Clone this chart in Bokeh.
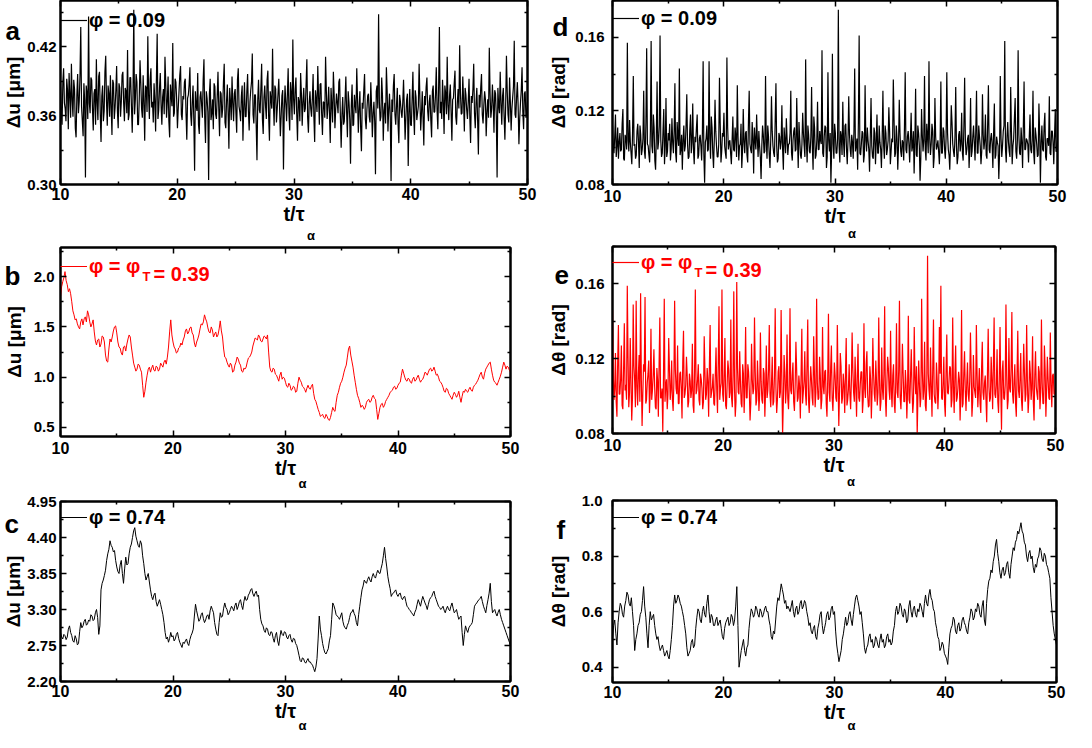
import numpy as np
from bokeh.plotting import figure
from bokeh.models import (ColumnDataSource, Range1d, LinearAxis, FixedTicker,
                          NumeralTickFormatter, CustomJSTickFormatter, Label,
                          Legend, LegendItem)
from bokeh.layouts import row, column
from bokeh.embed import file_html
from bokeh.resources import INLINE

FONT = "Liberation Sans"

# ---------------- data ----------------
x_ticks = [10, 20, 30, 40, 50]
x_minor = [15, 25, 35, 45]
x_label = "t/τ"
x_label_sub = "α"

# (a) phi = 0.09, displacement [um]; samples read at even and odd positions
du_phi009_even = [
 0.385, 0.352, 0.401, 0.366, 0.392, 0.348, 0.378, 0.405, 0.359, 0.383, 0.341, 0.396, 0.372, 0.437, 0.355, 0.388, 0.306, 0.379, 0.446, 0.362,
 0.391, 0.347, 0.383, 0.409, 0.356, 0.398, 0.337, 0.386, 0.364, 0.412, 0.351, 0.379, 0.395, 0.343, 0.388, 0.367, 0.403, 0.349, 0.384, 0.372,
 0.398, 0.355, 0.381, 0.417, 0.361, 0.393, 0.345, 0.452, 0.374, 0.389, 0.352, 0.408, 0.366, 0.395, 0.338, 0.384, 0.429, 0.357, 0.401, 0.372,
 0.388, 0.346, 0.431, 0.365, 0.397, 0.352, 0.383, 0.411, 0.358, 0.394, 0.341, 0.377, 0.423, 0.362, 0.389, 0.349, 0.381, 0.403, 0.356, 0.374,
 0.392, 0.339, 0.378, 0.402, 0.351, 0.386, 0.312, 0.369, 0.397, 0.344, 0.381, 0.358, 0.409, 0.336, 0.375, 0.304, 0.392, 0.362, 0.348, 0.385,
 0.357, 0.398, 0.342, 0.379, 0.366, 0.405, 0.349, 0.387, 0.331, 0.372, 0.394, 0.355, 0.383, 0.345, 0.401, 0.363, 0.377, 0.338, 0.389, 0.359,
 0.396, 0.347, 0.382, 0.414, 0.353, 0.378, 0.321, 0.391, 0.362, 0.405, 0.344, 0.386, 0.357, 0.399, 0.338, 0.374, 0.418, 0.351, 0.383, 0.366,
 0.392, 0.342, 0.377, 0.313, 0.386, 0.355, 0.401, 0.347, 0.379, 0.426, 0.361, 0.393, 0.338, 0.372, 0.397, 0.351, 0.384, 0.366, 0.409, 0.345,
 0.381, 0.359, 0.396, 0.337, 0.374, 0.403, 0.352, 0.388, 0.343, 0.371, 0.411, 0.357, 0.385, 0.336, 0.369, 0.398, 0.349, 0.379, 0.362, 0.392,
 0.332, 0.376, 0.355, 0.394, 0.341, 0.372, 0.318, 0.387, 0.352, 0.369, 0.401, 0.345, 0.381, 0.329, 0.366, 0.396, 0.348, 0.377, 0.359, 0.389,
 0.341, 0.372, 0.309, 0.386, 0.448, 0.355, 0.393, 0.338, 0.371, 0.402, 0.346, 0.379, 0.303, 0.363, 0.396, 0.352, 0.384, 0.336, 0.372, 0.358,
 0.391, 0.339, 0.374, 0.316, 0.383, 0.351, 0.398, 0.343, 0.376, 0.362, 0.405, 0.347, 0.381, 0.334, 0.369, 0.393, 0.355, 0.378, 0.341, 0.386,
 0.363, 0.402, 0.348, 0.437, 0.372, 0.391, 0.344, 0.379, 0.411, 0.356, 0.387, 0.338, 0.375, 0.399, 0.352, 0.383, 0.421, 0.361, 0.394, 0.346,
 0.378, 0.357, 0.392, 0.336, 0.371, 0.405, 0.349, 0.384, 0.326, 0.367, 0.396, 0.353, 0.381, 0.342, 0.374, 0.419, 0.358, 0.387, 0.345, 0.379,
 0.306, 0.369, 0.398, 0.352, 0.384, 0.339, 0.412, 0.361, 0.393, 0.347, 0.376, 0.425, 0.358, 0.389, 0.335, 0.371, 0.402, 0.348, 0.381, 0.362,
]
du_phi009_odd = [
 0.362, 0.389, 0.371, 0.355, 0.382, 0.397, 0.358, 0.374, 0.391, 0.349, 0.378, 0.362, 0.395, 0.368, 0.342, 0.373, 0.386, 0.357, 0.371, 0.393,
 0.366, 0.379, 0.352, 0.371, 0.394, 0.361, 0.377, 0.355, 0.398, 0.372, 0.386, 0.359, 0.368, 0.391, 0.357, 0.382, 0.364, 0.388, 0.359, 0.395,
 0.371, 0.384, 0.362, 0.356, 0.393, 0.368, 0.379, 0.361, 0.396, 0.352, 0.374, 0.389, 0.358, 0.371, 0.386, 0.363, 0.378, 0.392, 0.367, 0.354,
 0.373, 0.391, 0.357, 0.384, 0.369, 0.376, 0.361, 0.388, 0.372, 0.355, 0.387, 0.368, 0.359, 0.392, 0.374, 0.366, 0.395, 0.361, 0.377, 0.389,
 0.362, 0.375, 0.387, 0.361, 0.372, 0.356, 0.381, 0.364, 0.352, 0.376, 0.369, 0.391, 0.358, 0.381, 0.363, 0.379, 0.356, 0.374, 0.388, 0.361,
 0.377, 0.366, 0.381, 0.358, 0.389, 0.354, 0.373, 0.362, 0.384, 0.356, 0.371, 0.379, 0.362, 0.391, 0.368, 0.355, 0.386, 0.367, 0.359, 0.381,
 0.364, 0.372, 0.389, 0.361, 0.378, 0.352, 0.374, 0.365, 0.383, 0.357, 0.376, 0.368, 0.391, 0.359, 0.381, 0.366, 0.372, 0.386, 0.354, 0.379,
 0.367, 0.359, 0.382, 0.364, 0.371, 0.378, 0.362, 0.389, 0.356, 0.374, 0.383, 0.361, 0.376, 0.355, 0.379, 0.372, 0.363, 0.387, 0.358, 0.371,
 0.366, 0.374, 0.359, 0.382, 0.363, 0.377, 0.387, 0.361, 0.372, 0.358, 0.381, 0.369, 0.362, 0.384, 0.354, 0.378, 0.366, 0.371, 0.389, 0.359,
 0.361, 0.352, 0.374, 0.363, 0.381, 0.357, 0.369, 0.351, 0.378, 0.362, 0.374, 0.366, 0.349, 0.371, 0.382, 0.357, 0.365, 0.379, 0.354, 0.368,
 0.362, 0.355, 0.381, 0.366, 0.372, 0.359, 0.377, 0.364, 0.353, 0.381, 0.366, 0.358, 0.374, 0.386, 0.361, 0.369, 0.352, 0.378, 0.363, 0.371,
 0.366, 0.358, 0.379, 0.362, 0.352, 0.374, 0.361, 0.382, 0.356, 0.368, 0.375, 0.362, 0.359, 0.377, 0.385, 0.364, 0.372, 0.356, 0.381, 0.363,
 0.378, 0.365, 0.384, 0.362, 0.357, 0.373, 0.386, 0.361, 0.369, 0.377, 0.363, 0.374, 0.388, 0.359, 0.371, 0.366, 0.379, 0.362, 0.373, 0.384,
 0.365, 0.372, 0.359, 0.377, 0.383, 0.362, 0.371, 0.356, 0.378, 0.384, 0.361, 0.369, 0.374, 0.363, 0.358, 0.379, 0.366, 0.371, 0.382, 0.359,
 0.384, 0.362, 0.371, 0.377, 0.359, 0.369, 0.381, 0.354, 0.372, 0.366, 0.385, 0.361, 0.376, 0.368, 0.357, 0.382, 0.363, 0.379, 0.358, 0.372,
]

# (b) phi = phi_T = 0.39, displacement [um]
du_phi039_even = [
 1.80, 1.95, 2.05, 1.92, 1.88, 1.75, 1.62, 1.58, 1.50, 1.55,
 1.52, 1.60, 1.66, 1.55, 1.53, 1.45, 1.32, 1.38, 1.33, 1.40,
 1.22, 1.15, 1.38, 1.40, 1.50, 1.44, 1.30, 1.24, 1.30, 1.26,
 1.38, 1.40, 1.22, 1.10, 1.08, 1.12, 1.05, 0.80, 0.95, 1.08,
 1.05, 1.12, 1.06, 1.10, 1.08, 1.12, 1.15, 1.13, 1.30, 1.57,
 1.35, 1.28, 1.25, 1.30, 1.32, 1.40, 1.48, 1.45, 1.50, 1.42,
 1.30, 1.38, 1.48, 1.52, 1.62, 1.55, 1.45, 1.50, 1.40, 1.45,
 1.42, 1.56, 1.40, 1.20, 1.15, 1.10, 1.12, 1.06, 1.15, 1.18,
 1.12, 1.05, 1.08, 1.15, 1.20, 1.25, 1.35, 1.38, 1.42, 1.36,
 1.38, 1.40, 1.42, 1.10, 1.05, 1.08, 1.02, 0.96, 1.05, 1.00,
 0.95, 0.90, 0.92, 0.88, 0.90, 0.86, 1.00, 0.95, 0.90, 0.85,
 0.92, 0.88, 0.93, 0.78, 0.72, 0.65, 0.62, 0.60, 0.63, 0.58,
 0.60, 0.70, 0.66, 0.82, 0.90, 0.96, 1.05, 1.12, 1.28, 1.22,
 1.10, 0.95, 0.82, 0.75, 0.72, 0.68, 0.75, 0.78, 0.76, 0.82,
 0.78, 0.58, 0.70, 0.74, 0.72, 0.78, 0.82, 0.86, 0.90, 0.88,
 0.92, 0.95, 1.08, 1.00, 0.96, 0.98, 0.94, 1.00, 0.97, 1.02,
 0.95, 0.98, 1.05, 1.02, 1.08, 1.06, 1.10, 1.02, 1.00, 0.95,
 0.90, 0.85, 0.88, 0.82, 0.78, 0.85, 0.80, 0.86, 0.75, 0.86,
 0.88, 0.85, 0.90, 0.86, 0.92, 0.95, 1.00, 1.05, 0.98, 1.08,
 1.12, 1.15, 1.02, 0.95, 0.92, 0.98, 1.05, 1.15, 1.08, 1.10,
 1.05,
]
du_phi039_odd = [
 1.90, 1.99, 1.96, 1.85, 1.83, 1.66, 1.57, 1.53, 1.48, 1.58,
 1.58, 1.55, 1.62, 1.50, 1.57, 1.36, 1.37, 1.30, 1.41, 1.35,
 1.16, 1.28, 1.35, 1.46, 1.51, 1.35, 1.29, 1.22, 1.31, 1.33,
 1.42, 1.30, 1.14, 1.06, 1.13, 1.08, 0.92, 0.86, 1.02, 1.10,
 1.09, 1.07, 1.11, 1.06, 1.14, 1.10, 1.17, 1.20, 1.45, 1.42,
 1.30, 1.24, 1.29, 1.34, 1.37, 1.46, 1.43, 1.49, 1.44, 1.34,
 1.35, 1.42, 1.53, 1.55, 1.58, 1.49, 1.44, 1.47, 1.43, 1.40,
 1.48, 1.46, 1.28, 1.19, 1.12, 1.14, 1.05, 1.12, 1.20, 1.14,
 1.06, 1.09, 1.10, 1.19, 1.22, 1.31, 1.39, 1.37, 1.40, 1.35,
 1.41, 1.38, 1.25, 1.06, 1.09, 1.03, 0.99, 1.02, 0.98, 0.99,
 0.91, 0.94, 0.87, 0.91, 0.85, 0.94, 0.97, 0.91, 0.88, 0.89,
 0.89, 0.91, 0.84, 0.76, 0.68, 0.61, 0.63, 0.59, 0.61, 0.57,
 0.65, 0.67, 0.75, 0.85, 0.94, 1.00, 1.09, 1.20, 1.31, 1.16,
 1.02, 0.88, 0.79, 0.70, 0.71, 0.70, 0.77, 0.75, 0.80, 0.79,
 0.68, 0.64, 0.73, 0.70, 0.76, 0.80, 0.85, 0.87, 0.91, 0.89,
 0.94, 1.02, 1.04, 0.97, 0.99, 0.95, 0.98, 0.96, 1.00, 0.98,
 0.97, 1.01, 1.04, 1.05, 1.09, 1.07, 1.06, 1.03, 0.96, 0.93,
 0.86, 0.89, 0.84, 0.80, 0.82, 0.83, 0.82, 0.80, 0.81, 0.85,
 0.86, 0.88, 0.87, 0.90, 0.93, 0.97, 1.03, 1.00, 1.04, 1.10,
 1.14, 1.08, 0.97, 0.94, 0.95, 1.01, 1.10, 1.12, 1.11, 1.07,
]

# (c) phi = 0.74, displacement [um]
du_phi074_even = [
 2.95, 2.85, 2.90, 2.88, 3.05, 2.90, 2.80, 2.85, 2.78, 3.10,
 3.05, 3.15, 3.08, 3.12, 3.20, 3.15, 3.30, 2.92, 3.60, 3.75,
 3.90, 4.15, 4.35, 4.25, 4.20, 3.95, 3.85, 4.05, 3.70, 4.10,
 4.00, 4.25, 4.40, 4.55, 4.35, 4.25, 4.30, 4.00, 3.75, 3.85,
 3.60, 3.45, 3.55, 3.35, 3.45, 3.30, 3.10, 2.85, 2.80, 2.95,
 2.90, 2.85, 2.95, 2.80, 2.72, 2.78, 2.85, 2.75, 2.90, 3.00,
 3.38, 3.20, 3.15, 3.25, 3.10, 3.20, 3.15, 3.35, 3.25, 3.00,
 2.90, 3.25, 3.20, 3.40, 3.30, 3.25, 3.35, 3.28, 3.40, 3.35,
 3.45, 3.30, 3.50, 3.45, 3.55, 3.62, 3.50, 3.58, 3.52, 3.15,
 3.05, 2.95, 3.00, 2.90, 2.95, 2.80, 2.95, 2.75, 2.98, 2.90,
 2.95, 2.85, 2.92, 2.80, 2.85, 2.75, 2.60, 2.50, 2.55, 2.48,
 2.55, 2.50, 2.45, 2.35, 2.55, 3.20, 2.90, 2.70, 2.62, 2.70,
 2.90, 3.40, 3.30, 3.20, 3.15, 3.25, 3.05, 3.00, 3.10, 3.25,
 3.30, 3.20, 3.05, 3.35, 3.60, 3.75, 3.70, 3.80, 3.72, 3.85,
 3.78, 3.90, 3.85, 4.00, 4.25, 3.95, 3.70, 3.50, 3.55, 3.60,
 3.50, 3.55, 3.45, 3.50, 3.35, 3.30, 3.25, 3.20, 3.30, 3.45,
 3.35, 3.50, 3.40, 3.30, 3.45, 3.50, 3.58, 3.45, 3.35, 3.30,
 3.35, 3.25, 3.35, 3.28, 3.40, 3.25, 3.30, 3.15, 3.20, 2.75,
 3.05, 2.95, 3.05, 3.10, 3.35, 3.40, 3.45, 3.50, 3.35, 3.25,
 3.45, 3.70, 3.25, 3.30, 3.20, 3.30, 3.15, 3.05, 2.95, 2.85,
 2.75,
]
du_phi074_odd = [
 2.88, 2.92, 2.84, 3.00, 2.95, 2.82, 2.90, 2.76, 2.96, 3.02,
 3.12, 3.06, 3.14, 3.22, 3.13, 3.25, 3.18, 3.05, 3.70, 3.82,
 4.05, 4.22, 4.28, 4.18, 4.05, 3.88, 3.98, 3.85, 3.92, 3.98,
 4.15, 4.30, 4.50, 4.42, 4.28, 4.35, 4.12, 3.85, 3.80, 3.72,
 3.50, 3.52, 3.42, 3.40, 3.38, 3.22, 2.95, 2.88, 2.86, 2.88,
 2.82, 2.92, 2.86, 2.76, 2.80, 2.82, 2.78, 2.84, 2.94, 3.20,
 3.28, 3.12, 3.22, 3.16, 3.14, 3.22, 3.28, 3.30, 3.10, 2.92,
 3.10, 3.18, 3.32, 3.33, 3.22, 3.30, 3.32, 3.36, 3.30, 3.42,
 3.36, 3.42, 3.44, 3.52, 3.60, 3.54, 3.55, 3.50, 3.30, 3.08,
 2.98, 3.02, 2.92, 2.96, 2.86, 2.90, 2.82, 2.88, 2.92, 2.96,
 2.88, 2.90, 2.84, 2.86, 2.78, 2.68, 2.52, 2.56, 2.50, 2.52,
 2.50, 2.47, 2.40, 2.42, 2.85, 3.00, 2.78, 2.64, 2.66, 2.82,
 3.15, 3.36, 3.22, 3.18, 3.20, 3.12, 3.02, 3.06, 3.18, 3.26,
 3.24, 3.10, 3.22, 3.48, 3.66, 3.72, 3.76, 3.75, 3.80, 3.80,
 3.85, 3.86, 3.93, 4.12, 4.08, 3.80, 3.62, 3.54, 3.58, 3.53,
 3.54, 3.48, 3.49, 3.42, 3.33, 3.28, 3.23, 3.26, 3.38, 3.40,
 3.43, 3.45, 3.36, 3.38, 3.48, 3.55, 3.50, 3.40, 3.33, 3.32,
 3.29, 3.31, 3.30, 3.35, 3.32, 3.27, 3.22, 3.18, 2.95, 2.92,
 2.99, 3.02, 3.07, 3.22, 3.38, 3.43, 3.47, 3.42, 3.30, 3.36,
 3.55, 3.42, 3.28, 3.24, 3.26, 3.22, 3.10, 3.00, 2.90, 2.80,
]

# (d) phi = 0.09, rotation [rad]
dth_phi009_even = [
 0.112, 0.097, 0.118, 0.101, 0.094, 0.108, 0.099, 0.121, 0.093, 0.105, 0.157, 0.098, 0.103, 0.091, 0.139, 0.102, 0.096, 0.113, 0.089, 0.107,
 0.099, 0.131, 0.094, 0.154, 0.101, 0.092, 0.158, 0.097, 0.111, 0.088, 0.136, 0.103, 0.161, 0.095, 0.109, 0.091, 0.127, 0.098, 0.104, 0.093,
 0.116, 0.097, 0.135, 0.092, 0.106, 0.143, 0.099, 0.088, 0.112, 0.101, 0.129, 0.094, 0.109, 0.097, 0.124, 0.091, 0.103, 0.118, 0.096, 0.107,
 0.093, 0.147, 0.081, 0.105, 0.098, 0.147, 0.094, 0.111, 0.089, 0.126, 0.101, 0.095, 0.138, 0.092, 0.108, 0.119, 0.097, 0.149, 0.099, 0.104,
 0.091, 0.117, 0.098, 0.106, 0.134, 0.093, 0.102, 0.089, 0.121, 0.097, 0.109, 0.092, 0.131, 0.099, 0.114, 0.086, 0.104, 0.118, 0.095, 0.101,
 0.083, 0.112, 0.097, 0.139, 0.094, 0.106, 0.089, 0.128, 0.101, 0.095, 0.135, 0.092, 0.108, 0.099, 0.123, 0.088, 0.104, 0.116, 0.096, 0.102,
 0.131, 0.093, 0.109, 0.098, 0.127, 0.089, 0.105, 0.094, 0.119, 0.101, 0.148, 0.092, 0.107, 0.097, 0.133, 0.088, 0.111, 0.096, 0.125, 0.099,
 0.104, 0.153, 0.095, 0.112, 0.089, 0.141, 0.098, 0.081, 0.151, 0.094, 0.108, 0.097, 0.175, 0.092, 0.106, 0.125, 0.095, 0.113, 0.091, 0.128,
 0.099, 0.107, 0.094, 0.143, 0.101, 0.088, 0.161, 0.096, 0.109, 0.092, 0.134, 0.098, 0.104, 0.087, 0.127, 0.095, 0.111, 0.091, 0.118, 0.097,
 0.103, 0.089, 0.131, 0.094, 0.108, 0.099, 0.122, 0.091, 0.105, 0.137, 0.095, 0.112, 0.088, 0.126, 0.098, 0.104, 0.093, 0.141, 0.097, 0.109,
 0.092, 0.119, 0.101, 0.086, 0.132, 0.095, 0.108, 0.082, 0.121, 0.098, 0.139, 0.093, 0.106, 0.147, 0.096, 0.113, 0.089, 0.127, 0.099, 0.104,
 0.091, 0.136, 0.097, 0.109, 0.094, 0.141, 0.099, 0.088, 0.123, 0.102, 0.095, 0.133, 0.091, 0.107, 0.098, 0.119, 0.093, 0.138, 0.096, 0.105,
 0.089, 0.127, 0.098, 0.112, 0.093, 0.131, 0.097, 0.106, 0.091, 0.129, 0.099, 0.118, 0.094, 0.134, 0.097, 0.108, 0.089, 0.124, 0.096, 0.103,
 0.083, 0.139, 0.095, 0.109, 0.158, 0.092, 0.114, 0.098, 0.133, 0.091, 0.105, 0.127, 0.094, 0.153, 0.097, 0.111, 0.089, 0.136, 0.099, 0.104,
 0.092, 0.118, 0.097, 0.131, 0.091, 0.107, 0.095, 0.124, 0.081, 0.112, 0.098, 0.119, 0.093, 0.105, 0.128, 0.096, 0.109, 0.091, 0.121, 0.098,
]
dth_phi009_odd = [
 0.101, 0.106, 0.095, 0.111, 0.103, 0.098, 0.113, 0.094, 0.107, 0.099, 0.104, 0.115, 0.097, 0.108, 0.101, 0.094, 0.109, 0.103, 0.112, 0.096,
 0.105, 0.098, 0.114, 0.102, 0.096, 0.109, 0.101, 0.118, 0.093, 0.106, 0.099, 0.112, 0.104, 0.097, 0.121, 0.101, 0.095, 0.108, 0.113, 0.099,
 0.103, 0.109, 0.097, 0.114, 0.101, 0.096, 0.107, 0.104, 0.098, 0.112, 0.102, 0.095, 0.118, 0.103, 0.099, 0.106, 0.111, 0.094, 0.105, 0.101,
 0.108, 0.096, 0.103, 0.112, 0.099, 0.105, 0.117, 0.097, 0.104, 0.109, 0.095, 0.102, 0.113, 0.098, 0.106, 0.101, 0.094, 0.111, 0.103, 0.097,
 0.104, 0.099, 0.111, 0.095, 0.106, 0.101, 0.113, 0.098, 0.103, 0.108, 0.096, 0.114, 0.102, 0.097, 0.105, 0.111, 0.099, 0.104, 0.109, 0.095,
 0.101, 0.107, 0.098, 0.103, 0.112, 0.096, 0.104, 0.109, 0.097, 0.115, 0.101, 0.094, 0.106, 0.103, 0.099, 0.111, 0.097, 0.105, 0.102, 0.108,
 0.097, 0.104, 0.111, 0.099, 0.105, 0.114, 0.096, 0.102, 0.108, 0.095, 0.103, 0.112, 0.098, 0.106, 0.101, 0.117, 0.094, 0.104, 0.099, 0.109,
 0.102, 0.097, 0.106, 0.111, 0.095, 0.104, 0.108, 0.099, 0.102, 0.113, 0.097, 0.105, 0.101, 0.109, 0.096, 0.103, 0.112, 0.099, 0.104, 0.107,
 0.095, 0.103, 0.109, 0.098, 0.105, 0.114, 0.097, 0.102, 0.108, 0.096, 0.104, 0.111, 0.099, 0.106, 0.101, 0.094, 0.108, 0.103, 0.097, 0.112,
 0.099, 0.106, 0.101, 0.112, 0.096, 0.104, 0.109, 0.098, 0.103, 0.115, 0.097, 0.105, 0.101, 0.108, 0.095, 0.103, 0.111, 0.099, 0.106, 0.102,
 0.105, 0.098, 0.109, 0.103, 0.096, 0.112, 0.101, 0.094, 0.107, 0.104, 0.099, 0.113, 0.097, 0.105, 0.102, 0.109, 0.095, 0.106, 0.101, 0.098,
 0.103, 0.097, 0.111, 0.099, 0.105, 0.108, 0.096, 0.103, 0.114, 0.098, 0.106, 0.101, 0.095, 0.109, 0.102, 0.097, 0.112, 0.104, 0.099, 0.107,
 0.101, 0.095, 0.106, 0.103, 0.109, 0.097, 0.112, 0.101, 0.098, 0.107, 0.104, 0.096, 0.113, 0.099, 0.105, 0.102, 0.108, 0.094, 0.106, 0.101,
 0.097, 0.105, 0.101, 0.112, 0.099, 0.106, 0.103, 0.095, 0.109, 0.101, 0.116, 0.098, 0.104, 0.107, 0.096, 0.103, 0.111, 0.099, 0.105, 0.102,
 0.106, 0.099, 0.104, 0.097, 0.111, 0.102, 0.096, 0.108, 0.103, 0.099, 0.112, 0.095, 0.105, 0.101, 0.097, 0.109, 0.103, 0.106, 0.098, 0.104,
]

# (e) phi = phi_T = 0.39, rotation [rad]
dth_phi039_even = [
 0.146, 0.098, 0.123, 0.089, 0.138, 0.101, 0.127, 0.093, 0.139, 0.106, 0.159, 0.094, 0.131, 0.087, 0.149, 0.108, 0.151, 0.095, 0.122, 0.155,
 0.084, 0.117, 0.153, 0.098, 0.112, 0.091, 0.136, 0.103, 0.125, 0.094, 0.115, 0.089, 0.142, 0.099, 0.081, 0.152, 0.106, 0.093, 0.131, 0.098,
 0.119, 0.092, 0.151, 0.104, 0.127, 0.096, 0.113, 0.088, 0.135, 0.101, 0.121, 0.094, 0.112, 0.099, 0.128, 0.091, 0.157, 0.103, 0.117, 0.095,
 0.109, 0.093, 0.132, 0.098, 0.115, 0.089, 0.138, 0.102, 0.112, 0.095, 0.126, 0.091, 0.148, 0.104, 0.157, 0.097, 0.131, 0.093, 0.119, 0.099,
 0.141, 0.094, 0.156, 0.089, 0.161, 0.102, 0.124, 0.096, 0.117, 0.091, 0.137, 0.099, 0.113, 0.087, 0.128, 0.101, 0.142, 0.095, 0.119, 0.092,
 0.134, 0.098, 0.115, 0.089, 0.127, 0.103, 0.138, 0.094, 0.121, 0.097, 0.147, 0.091, 0.113, 0.099, 0.146, 0.079, 0.122, 0.096, 0.133, 0.093,
 0.147, 0.101, 0.118, 0.092, 0.129, 0.097, 0.111, 0.088, 0.136, 0.102, 0.124, 0.095, 0.141, 0.091, 0.116, 0.099, 0.132, 0.094, 0.152, 0.098,
 0.121, 0.093, 0.137, 0.101, 0.114, 0.089, 0.144, 0.097, 0.127, 0.092, 0.118, 0.099, 0.138, 0.084, 0.123, 0.096, 0.112, 0.091, 0.131, 0.098,
 0.117, 0.093, 0.134, 0.102, 0.121, 0.089, 0.128, 0.097, 0.113, 0.091, 0.139, 0.099, 0.124, 0.094, 0.116, 0.088, 0.131, 0.101, 0.119, 0.095,
 0.142, 0.092, 0.126, 0.098, 0.148, 0.089, 0.121, 0.103, 0.135, 0.094, 0.117, 0.091, 0.139, 0.099, 0.151, 0.093, 0.128, 0.097, 0.114, 0.088,
 0.143, 0.096, 0.125, 0.091, 0.137, 0.101, 0.079, 0.119, 0.094, 0.152, 0.098, 0.129, 0.092, 0.175, 0.103, 0.126, 0.089, 0.141, 0.097, 0.118,
 0.093, 0.137, 0.159, 0.098, 0.121, 0.089, 0.133, 0.101, 0.116, 0.094, 0.142, 0.091, 0.127, 0.099, 0.113, 0.087, 0.146, 0.096, 0.124, 0.092,
 0.118, 0.097, 0.134, 0.089, 0.122, 0.102, 0.138, 0.094, 0.115, 0.091, 0.129, 0.098, 0.111, 0.086, 0.136, 0.097, 0.121, 0.093, 0.142, 0.099,
 0.125, 0.091, 0.137, 0.082, 0.119, 0.098, 0.149, 0.093, 0.131, 0.102, 0.145, 0.096, 0.117, 0.089, 0.135, 0.099, 0.123, 0.092, 0.128, 0.097,
 0.138, 0.091, 0.119, 0.098, 0.132, 0.087, 0.124, 0.101, 0.116, 0.093, 0.141, 0.096, 0.127, 0.089, 0.121, 0.099, 0.134, 0.094, 0.112, 0.101,
]
dth_phi039_odd = [
 0.112, 0.104, 0.097, 0.118, 0.101, 0.109, 0.095, 0.114, 0.103, 0.098, 0.121, 0.102, 0.108, 0.099, 0.116, 0.094, 0.105, 0.112, 0.097, 0.109,
 0.101, 0.113, 0.096, 0.107, 0.119, 0.102, 0.098, 0.111, 0.105, 0.093, 0.108, 0.117, 0.099, 0.104, 0.112, 0.097, 0.109, 0.101, 0.115, 0.103,
 0.098, 0.107, 0.114, 0.101, 0.096, 0.112, 0.104, 0.118, 0.099, 0.106, 0.111, 0.097, 0.108, 0.103, 0.095, 0.114, 0.101, 0.109, 0.098, 0.112,
 0.104, 0.097, 0.113, 0.101, 0.108, 0.116, 0.099, 0.105, 0.096, 0.111, 0.103, 0.118, 0.098, 0.107, 0.101, 0.112, 0.095, 0.106, 0.114, 0.102,
 0.099, 0.111, 0.104, 0.097, 0.115, 0.101, 0.108, 0.094, 0.112, 0.106, 0.099, 0.117, 0.103, 0.096, 0.109, 0.104, 0.113, 0.098, 0.107, 0.101,
 0.108, 0.096, 0.112, 0.103, 0.099, 0.114, 0.101, 0.107, 0.095, 0.111, 0.104, 0.098, 0.116, 0.102, 0.109, 0.097, 0.113, 0.104, 0.099, 0.106,
 0.103, 0.111, 0.097, 0.106, 0.114, 0.099, 0.105, 0.112, 0.096, 0.108, 0.101, 0.117, 0.098, 0.104, 0.109, 0.095, 0.113, 0.102, 0.107, 0.099,
 0.111, 0.098, 0.105, 0.113, 0.096, 0.109, 0.102, 0.115, 0.099, 0.104, 0.111, 0.097, 0.108, 0.103, 0.116, 0.099, 0.106, 0.112, 0.095, 0.104,
 0.101, 0.108, 0.114, 0.097, 0.105, 0.111, 0.099, 0.106, 0.113, 0.098, 0.104, 0.117, 0.101, 0.095, 0.109, 0.103, 0.112, 0.097, 0.108, 0.102,
 0.109, 0.097, 0.104, 0.112, 0.099, 0.107, 0.115, 0.098, 0.103, 0.111, 0.096, 0.108, 0.102, 0.114, 0.099, 0.105, 0.112, 0.097, 0.106, 0.103,
 0.098, 0.111, 0.104, 0.097, 0.109, 0.116, 0.101, 0.106, 0.099, 0.113, 0.103, 0.095, 0.108, 0.112, 0.098, 0.105, 0.114, 0.101, 0.096, 0.109,
 0.104, 0.112, 0.099, 0.107, 0.096, 0.113, 0.102, 0.108, 0.115, 0.098, 0.105, 0.111, 0.097, 0.104, 0.109, 0.101, 0.094, 0.112, 0.103, 0.107,
 0.101, 0.108, 0.113, 0.097, 0.105, 0.099, 0.111, 0.104, 0.096, 0.114, 0.102, 0.107, 0.098, 0.112, 0.105, 0.099, 0.109, 0.116, 0.101, 0.106,
 0.097, 0.109, 0.104, 0.113, 0.099, 0.106, 0.111, 0.098, 0.104, 0.115, 0.101, 0.108, 0.096, 0.112, 0.103, 0.109, 0.098, 0.106, 0.113, 0.101,
 0.108, 0.099, 0.112, 0.104, 0.097, 0.111, 0.105, 0.098, 0.113, 0.102, 0.107, 0.096, 0.114, 0.103, 0.109, 0.098, 0.106, 0.111, 0.101, 0.105,
]

# (f) phi = 0.74, rotation [rad]
dth_phi074_even = [
 0.50, 0.57, 0.48, 0.60, 0.62, 0.58, 0.64, 0.66, 0.62, 0.60,
 0.46, 0.52, 0.56, 0.60, 0.69, 0.58, 0.47, 0.60, 0.58, 0.55,
 0.50, 0.48, 0.47, 0.46, 0.45, 0.44, 0.46, 0.55, 0.66, 0.64,
 0.65, 0.62, 0.58, 0.52, 0.44, 0.46, 0.50, 0.48, 0.58, 0.60,
 0.56, 0.62, 0.58, 0.66, 0.56, 0.58, 0.55, 0.58, 0.56, 0.54,
 0.50, 0.56, 0.58, 0.56, 0.58, 0.57, 0.69, 0.40, 0.46, 0.50,
 0.44, 0.48, 0.58, 0.60, 0.59, 0.61, 0.58, 0.60, 0.59, 0.62,
 0.60, 0.55, 0.50, 0.52, 0.62, 0.64, 0.70, 0.66, 0.64, 0.62,
 0.60, 0.64, 0.58, 0.62, 0.60, 0.64, 0.62, 0.63, 0.58, 0.56,
 0.52, 0.55, 0.50, 0.56, 0.60, 0.52, 0.56, 0.60, 0.58, 0.62,
 0.60, 0.48, 0.42, 0.46, 0.52, 0.58, 0.56, 0.60, 0.55, 0.62,
 0.66, 0.62, 0.60, 0.52, 0.45, 0.48, 0.52, 0.50, 0.48, 0.50,
 0.47, 0.52, 0.50, 0.48, 0.52, 0.50, 0.49, 0.55, 0.62, 0.60,
 0.62, 0.58, 0.60, 0.57, 0.64, 0.58, 0.62, 0.58, 0.60, 0.62,
 0.58, 0.66, 0.62, 0.68, 0.64, 0.60, 0.54, 0.50, 0.47, 0.48,
 0.44, 0.41, 0.52, 0.55, 0.57, 0.52, 0.56, 0.54, 0.58, 0.55,
 0.52, 0.58, 0.60, 0.58, 0.60, 0.62, 0.58, 0.64, 0.55, 0.68,
 0.72, 0.74, 0.80, 0.86, 0.78, 0.72, 0.76, 0.74, 0.78, 0.72,
 0.80, 0.82, 0.86, 0.88, 0.92, 0.88, 0.84, 0.78, 0.82, 0.80,
 0.74, 0.76, 0.80, 0.82, 0.78, 0.80, 0.76, 0.72, 0.60, 0.52,
 0.48,
]
dth_phi074_odd = [
 0.55, 0.52, 0.56, 0.63, 0.59, 0.62, 0.67, 0.63, 0.65, 0.55,
 0.50, 0.55, 0.59, 0.64, 0.62, 0.52, 0.55, 0.57, 0.59, 0.52,
 0.51, 0.46, 0.48, 0.44, 0.46, 0.43, 0.50, 0.62, 0.63, 0.66,
 0.63, 0.60, 0.55, 0.47, 0.45, 0.49, 0.47, 0.54, 0.61, 0.57,
 0.60, 0.59, 0.63, 0.60, 0.59, 0.55, 0.57, 0.55, 0.57, 0.51,
 0.54, 0.57, 0.55, 0.59, 0.55, 0.62, 0.55, 0.43, 0.48, 0.46,
 0.47, 0.54, 0.61, 0.58, 0.62, 0.59, 0.61, 0.58, 0.61, 0.60,
 0.57, 0.51, 0.53, 0.57, 0.65, 0.67, 0.68, 0.63, 0.61, 0.61,
 0.62, 0.60, 0.61, 0.59, 0.63, 0.61, 0.64, 0.60, 0.55, 0.53,
 0.54, 0.51, 0.54, 0.59, 0.55, 0.54, 0.59, 0.57, 0.61, 0.59,
 0.53, 0.45, 0.44, 0.50, 0.55, 0.55, 0.59, 0.57, 0.59, 0.65,
 0.64, 0.59, 0.56, 0.47, 0.47, 0.51, 0.49, 0.47, 0.51, 0.48,
 0.50, 0.49, 0.47, 0.51, 0.49, 0.48, 0.53, 0.60, 0.59, 0.63,
 0.59, 0.61, 0.56, 0.62, 0.60, 0.61, 0.59, 0.61, 0.63, 0.60,
 0.63, 0.63, 0.66, 0.65, 0.61, 0.56, 0.51, 0.46, 0.49, 0.45,
 0.43, 0.47, 0.54, 0.58, 0.53, 0.55, 0.53, 0.57, 0.56, 0.53,
 0.56, 0.61, 0.57, 0.61, 0.63, 0.59, 0.62, 0.57, 0.63, 0.71,
 0.75, 0.78, 0.84, 0.81, 0.74, 0.75, 0.73, 0.77, 0.74, 0.77,
 0.83, 0.85, 0.89, 0.90, 0.89, 0.85, 0.80, 0.81, 0.79, 0.76,
 0.77, 0.79, 0.83, 0.79, 0.81, 0.77, 0.74, 0.65, 0.55, 0.50,
]

# axis settings per panel
yr_a, yt_a, ym_a = (0.30, 0.46), [0.30, 0.36, 0.42], [0.33, 0.39, 0.45]
yr_b, yt_b, ym_b = (0.41, 2.29), [0.5, 1.0, 1.5, 2.0], [0.75, 1.25, 1.75, 2.25]
yr_c, yt_c, ym_c = (2.20, 4.95), [2.20, 2.75, 3.30, 3.85, 4.40, 4.95], [2.475, 3.025, 3.575, 4.125, 4.675]
yr_d, yt_d, ym_d = (0.08, 0.18), [0.08, 0.12, 0.16], [0.10, 0.14, 0.18]
yr_f, yt_f, ym_f = (0.345, 1.0), [0.4, 0.6, 0.8, 1.0], [0.5, 0.7, 0.9]

BLACK = "#000000"
RED = "#ff0000"


def merged(even, odd):
    out = []
    for i, v in enumerate(even):
        out.append(v)
        if i < len(odd):
            out.append(odd[i])
    return out


def mk_label(text, x, y, size, color=BLACK, align="left", baseline="alphabetic"):
    return Label(x=x, y=y, x_units="screen", y_units="screen", text=text,
                 text_font=FONT, text_font_style="bold", text_font_size=size,
                 text_color=color, text_align=align, text_baseline=baseline)


def style_axis(ax, ticker, shown, fmt=None, standoff=5, size="16px"):
    ax.ticker = ticker
    ax.axis_line_width = 2
    ax.axis_line_color = BLACK
    ax.major_tick_in = 6
    ax.major_tick_out = 0
    ax.minor_tick_in = 3
    ax.minor_tick_out = 0
    ax.major_tick_line_width = 1.5
    ax.minor_tick_line_width = 1.5
    ax.major_tick_line_color = BLACK
    ax.minor_tick_line_color = BLACK
    if shown:
        ax.formatter = NumeralTickFormatter(format=fmt)
        ax.major_label_text_font = FONT
        ax.major_label_text_font_style = "bold"
        ax.major_label_text_font_size = size
        ax.major_label_text_color = BLACK
        ax.major_label_standoff = standoff
        ax.axis_label_text_font = FONT
        ax.axis_label_text_font_style = "bold"
        ax.axis_label_text_color = BLACK
    else:
        ax.formatter = CustomJSTickFormatter(code="return ''")
        ax.major_label_text_font_size = "0px"
        ax.major_label_standoff = 0


def panel(values, color, lw, yr, yt, ym, yfmt, ylabel, letter, leg_main, leg_sub, leg_rest,
          bl, bt, fw, fh, br, bb, ysd, ylsd, xsd, letter_x, letter_dy, leg_dy, sub_y,
          sub_below=False):
    t = np.linspace(10, 50, len(values))
    src = ColumnDataSource(dict(t=t, v=values))
    p = figure(frame_width=fw, frame_height=fh, min_border_left=bl, min_border_top=bt,
               min_border_right=br, min_border_bottom=bb,
               x_range=Range1d(10, 50), y_range=Range1d(*yr),
               output_backend="svg", toolbar_location=None,
               background_fill_color="white", border_fill_color="white")
    p.grid.visible = False
    p.outline_line_color = BLACK
    p.outline_line_width = 2
    r = p.line("t", "v", source=src, line_color=color, line_width=lw)

    xt = FixedTicker(ticks=x_ticks, minor_ticks=x_minor)
    ytk = FixedTicker(ticks=yt, minor_ticks=ym)
    xa = p.xaxis[0]
    style_axis(xa, xt, True, "0", xsd, "16px")
    xa.axis_label = x_label
    xa.axis_label_text_font_size = "20px"
    xa.axis_label_standoff = 0
    ya = p.yaxis[0]
    style_axis(ya, ytk, True, yfmt, ysd, "15px")
    ya.axis_label = ylabel
    ya.axis_label_text_font_size = "19px"
    ya.axis_label_standoff = ylsd
    top = LinearAxis()
    style_axis(top, xt, False)
    p.add_layout(top, "above")
    right = LinearAxis()
    style_axis(right, ytk, False)
    p.add_layout(right, "right")

    leg = Legend(items=[LegendItem(label=leg_main, renderers=[r])], location="top_left",
                 margin=0, padding=0, spacing=0, glyph_width=27,
                 glyph_height=2 * leg_dy, label_height=2 * leg_dy, label_standoff=2,
                 background_fill_alpha=0, border_line_alpha=0,
                 label_text_font=FONT, label_text_font_style="bold",
                 label_text_font_size="20px", label_text_color=color)
    p.add_layout(leg)
    if leg_sub:
        p.add_layout(mk_label(leg_sub, 82, fh - leg_dy - 10, "13px", color))
        p.add_layout(mk_label(leg_rest, 93, fh - leg_dy - 7, "20px", color))

    # subscript of the x title and the panel letter sit in side slots (not clipped)
    alpha_w = 8
    if sub_below:
        p.add_layout(mk_label(x_label_sub, fw / 2 + 13, sub_y, "13px"), "below")
        p.add_layout(mk_label(letter, -fw + letter_x, fh - letter_dy, "26px"), "right")
    else:
        p.add_layout(mk_label(x_label_sub, -(fw / 2 - 13), sub_y, "13px"), "right")
        p.add_layout(mk_label(letter, -fw - alpha_w + letter_x, fh - letter_dy, "26px"), "right")
    return p


pa = panel(merged(du_phi009_even, du_phi009_odd), BLACK, 1.2, yr_a, yt_a, ym_a, "0.00",
           "Δu [μm]", "a", "φ = 0.09", None, None,
           55, 0, 467, 184, 15, 58, 4, 0, 3, -55, 30, 20, 7, sub_below=True)
pb = panel(merged(du_phi039_even, du_phi039_odd), RED, 1.0, yr_b, yt_b, ym_b, "0.0",
           "Δu [μm]", "b", "φ = φ", "T", "= 0.39",
           55, 5, 450, 189, 32, 54, 6, 6, 5, -56, 28, 19, -47)
pc = panel(merged(du_phi074_even, du_phi074_odd), BLACK, 1.0, yr_c, yt_c, ym_c, "0.00",
           "Δu [μm]", "c", "φ = 0.74", None, None,
           55, 11, 450, 180, 32, 51, 4, 0, 3, -56, 22, 16, -44)
pd = panel(merged(dth_phi009_even, dth_phi009_odd), BLACK, 1.2, yr_d, yt_d, ym_d, "0.00",
           "Δθ [rad]", "d", "φ = 0.09", None, None,
           70, 0, 445, 184, 24, 56, 8, 3, 5, -60, 26, 18, -49)
pe = panel(merged(dth_phi039_even, dth_phi039_odd), RED, 1.2, yr_d, yt_d, ym_d, "0.00",
           "Δθ [rad]", "e", "φ = φ", "T", "= 0.39",
           70, 6, 443, 187, 26, 55, 8, 3, 5, -58, 28, 16, -48)
pf = panel(merged(dth_phi074_even, dth_phi074_odd), BLACK, 1.0, yr_f, yt_f, ym_f, "0.0",
           "Δθ [rad]", "f", "φ = 0.74", None, None,
           68, 12, 444, 182, 27, 50, 10, 10, 3, -56, 29, 17, -43)

layout = row(column(pa, pb, pc), column(pd, pe, pf))
open("out.html", "w").write(file_html(layout, INLINE))
